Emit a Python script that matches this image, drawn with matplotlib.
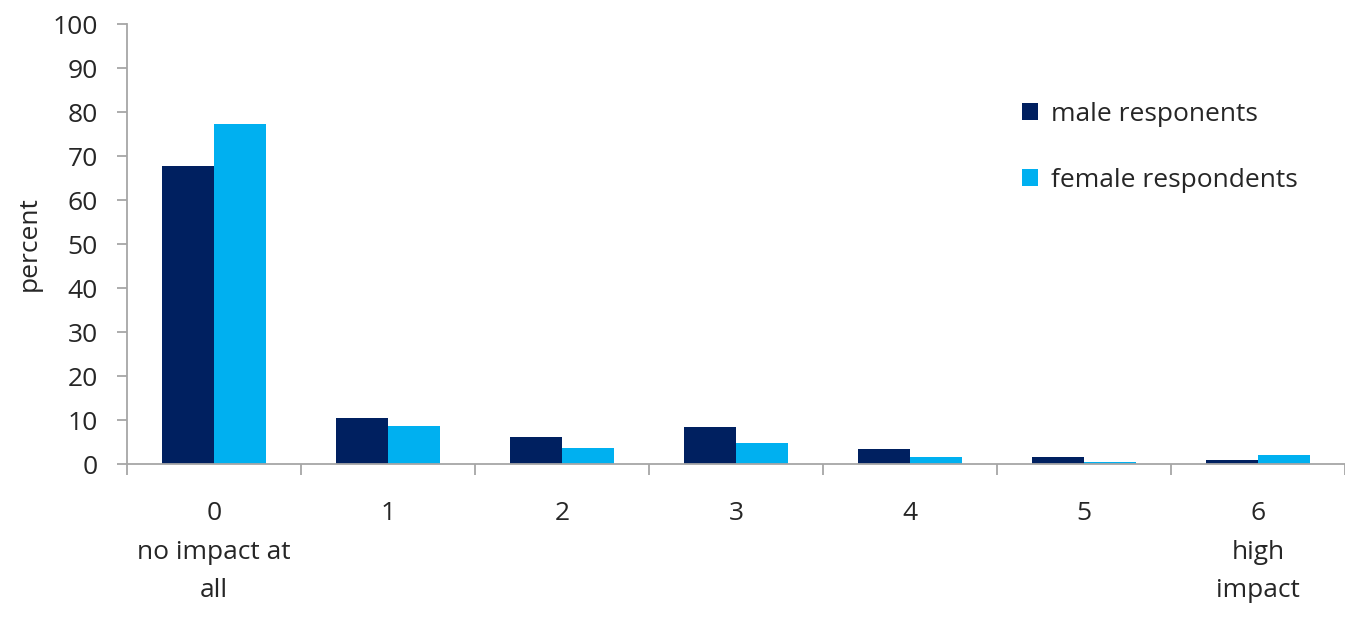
import numpy as np
import matplotlib.pyplot as plt

plt.rcParams['font.family'] = ['Open Sans', 'DejaVu Sans']

categories = ['0\nno impact at\nall', '1', '2', '3', '4', '5', '6\nhigh\nimpact']
male = [67.8, 10.4, 6.2, 8.3, 3.5, 1.7, 1.0]
female = [77.3, 8.7, 3.7, 4.8, 1.7, 0.4, 2.0]

navy = '#002060'
sky = '#00b0f0'
grey = '#a6a6a6'
txt = '#262626'

fig = plt.figure(figsize=(13.45, 6.27), dpi=100)
ax = fig.add_axes([127 / 1345, 163 / 627, 1 - 127 / 1345, 440 / 627])

x = np.arange(len(categories))
w = 0.30
ax.bar(x - w / 2, male, w, color=navy, label='male responents')
ax.bar(x + w / 2, female, w, color=sky, label='female respondents')

ax.set_xlim(-0.5, 6.42)
ax.set_ylim(0, 100)
ax.set_yticks(range(0, 101, 10))
ax.set_xticks(x)
ax.set_xticklabels(categories, linespacing=1.7, va='top')
ax.set_xticks(np.arange(-0.5, 7, 1), minor=True)

for s in ['top', 'right']:
    ax.spines[s].set_visible(False)
for s in ['left', 'bottom']:
    ax.spines[s].set_color(grey)
    ax.spines[s].set_linewidth(1.3)

ax.tick_params(axis='y', length=7, color=grey, width=1.3, labelsize=19, pad=14, labelcolor=txt)
ax.tick_params(axis='x', which='major', length=0, labelsize=19, pad=27, labelcolor=txt)
ax.tick_params(axis='x', which='minor', length=8, color=grey, width=1.3)

ax.set_ylabel('percent', fontsize=19, color=txt, labelpad=8)

ax.legend(loc='upper left', bbox_to_anchor=(998 / 1345, 0.875), bbox_transform=fig.transFigure,
          frameon=False, fontsize=19, handlelength=0.6, handleheight=0.6, handletextpad=0.5,
          labelspacing=1.55, labelcolor=txt)

fig.savefig('out.png', dpi=100)
